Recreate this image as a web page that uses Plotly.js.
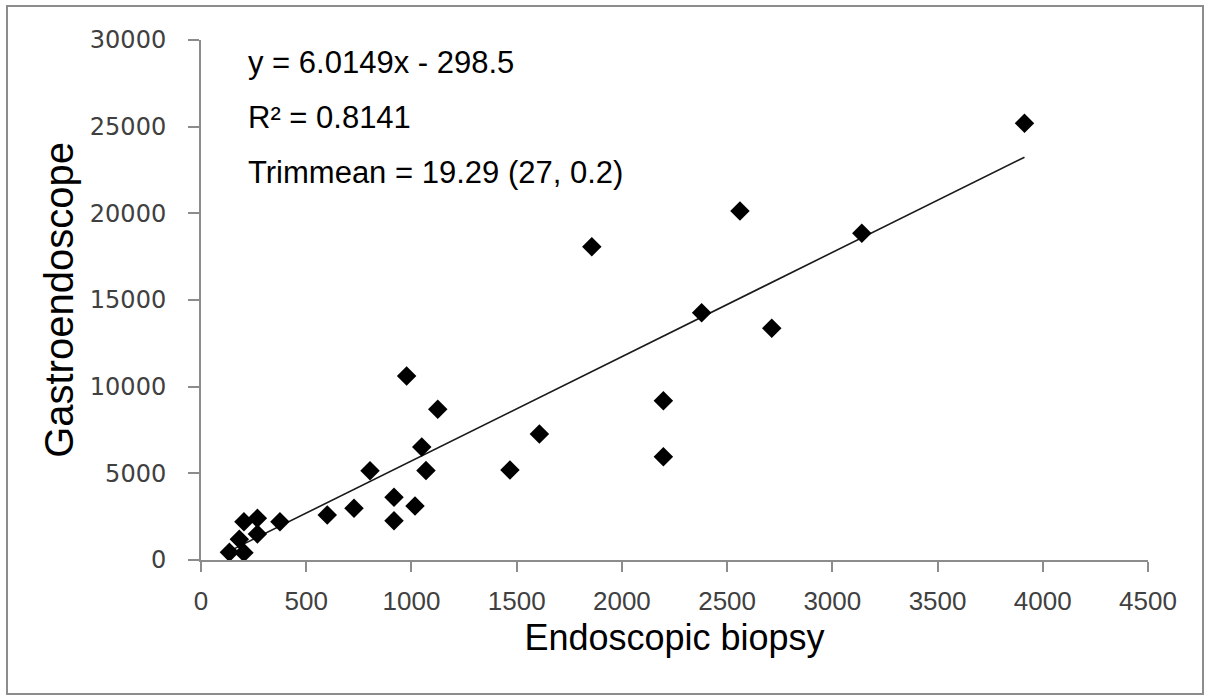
<!DOCTYPE html>
<html>
<head>
<meta charset="utf-8">
<script src="https://cdn.plot.ly/plotly-3.0.1.min.js"></script>
<style>
  html, body { margin: 0; padding: 0; background: #ffffff; }
  #chart { width: 1206px; height: 697px; }
</style>
</head>
<body>
<div id="chart"></div>
<script>
// Data
const endoscopicBiopsy = [135, 204, 182, 204, 268, 268, 375, 600, 727, 803, 917, 917, 977, 1017, 1049, 1069, 1125,
                          1468, 1608, 1857, 2197, 2197, 2379, 2561, 2712, 3140, 3913];
const gastroendoscope  = [442, 423, 1193, 2212, 2404, 1500, 2212, 2596, 2981, 5155, 3615, 2269, 10615, 3115, 6520, 5170, 8692,
                          5192, 7269, 18077, 9192, 5962, 14269, 20135, 13365, 18848, 25200];

const trendSlope = 6.0149;
const trendIntercept = -298.5;
const statLines = ["y = 6.0149x - 298.5", "R\u00B2 = 0.8141", "Trimmean = 19.29 (27, 0.2)"];

const xTitle = "Endoscopic biopsy";
const yTitle = "Gastroendoscope";

const xMin = Math.min(...endoscopicBiopsy);
const xMax = Math.max(...endoscopicBiopsy);
const trendX = [xMin, xMax];
const trendY = trendX.map(v => trendSlope * v + trendIntercept);

const W = 1206, H = 697;
const M = { l: 201, r: 58, t: 40, b: 137 };
const pw = W - M.l - M.r, ph = H - M.t - M.b;
const px2paperX = p => (p - M.l) / pw;
const px2paperY = p => (H - M.b - p) / ph;

const axisColor = "#8c8c8c";
const tickFontColor = "#404040";

const traces = [
  {
    x: trendX, y: trendY, type: "scatter", mode: "lines",
    line: { color: "#1a1a1a", width: 1.6 },
    hoverinfo: "skip", showlegend: false
  },
  {
    x: endoscopicBiopsy, y: gastroendoscope, type: "scatter", mode: "markers",
    marker: { symbol: "diamond", size: 15, color: "#000000", line: { width: 0 } },
    showlegend: false
  }
];

const annY = [63, 117, 172];
const annotations = statLines.map((t, i) => ({
  text: t, xref: "paper", yref: "paper",
  x: px2paperX(246), y: px2paperY(annY[i]),
  xanchor: "left", yanchor: "middle", showarrow: false,
  font: { family: "Liberation Sans, Arial, sans-serif", size: 31, color: "#000000" }
}));

const layout = {
  width: W, height: H,
  margin: M,
  paper_bgcolor: "#ffffff", plot_bgcolor: "#ffffff",
  showlegend: false,
  xaxis: {
    range: [0, 4500], dtick: 500, tick0: 0,
    showgrid: false, zeroline: false,
    showline: true, linecolor: axisColor, linewidth: 2,
    ticks: "outside", ticklen: 10, tickwidth: 2, tickcolor: axisColor,
    tickformat: "d", ticklabelstandoff: 7,
    tickfont: { family: "Liberation Sans, Arial, sans-serif", size: 26, color: tickFontColor },
    title: { text: xTitle, standoff: 10,
             font: { family: "Liberation Sans, Arial, sans-serif", size: 36, color: "#000000" } }
  },
  yaxis: {
    range: [0, 30000], dtick: 5000, tick0: 0,
    showgrid: false, zeroline: false,
    showline: true, linecolor: axisColor, linewidth: 2,
    ticks: "outside", ticklen: 11, tickwidth: 2, tickcolor: axisColor,
    tickformat: "d", ticklabelstandoff: 17,
    tickfont: { family: "DejaVu Sans, sans-serif", size: 24, color: tickFontColor },
    title: { text: yTitle, standoff: 4,
             font: { family: "Liberation Sans, Arial, sans-serif", size: 40, color: "#000000" } }
  },
  annotations: annotations,
  shapes: [{
    type: "rect", xref: "paper", yref: "paper", layer: "below",
    x0: px2paperX(7), x1: px2paperX(1203), y0: px2paperY(694), y1: px2paperY(6),
    line: { color: axisColor, width: 2 }, fillcolor: "rgba(0,0,0,0)"
  }]
};

Plotly.newPlot("chart", traces, layout, { displayModeBar: false, staticPlot: true });
</script>
</body>
</html>
